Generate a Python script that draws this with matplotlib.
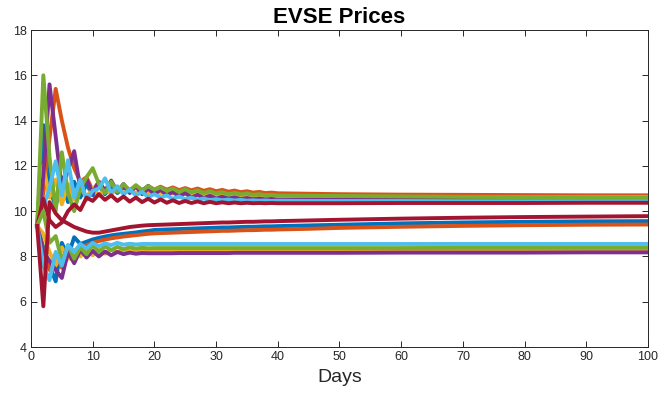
import matplotlib
matplotlib.use('Agg')
import matplotlib.pyplot as plt

# days sampled: every day up to 40, then sparser (curves are flat there)
days = list(range(1, 41)) + [45, 50, 60, 70, 80, 90, 100]

# MATLAB default colour order
colors = ['#0072BD', '#D95319', '#EDB120', '#7E2F8E', '#77AC30', '#4DBEEE', '#A2142F']

# high group (converge near 10.4 - 10.7)
blue_hi = [9.35, 13.8, 11.0, 10.2, 11.5, 10.4, 11.3, 10.6, 11.2, 10.7,
           11.15, 10.75, 11.1, 10.8, 11.05, 10.85, 11.1, 10.88, 11.12, 10.9,
           11.05, 10.88, 11.0, 10.85, 10.95, 10.82, 10.9, 10.78, 10.85, 10.75,
           10.8, 10.72, 10.76, 10.7, 10.72, 10.67, 10.69, 10.65, 10.66, 10.63,
           10.61, 10.6, 10.58, 10.57, 10.56, 10.55, 10.55]
orange_hi = [9.35, 10.8, 13.2, 15.4, 14.0, 12.8, 11.9, 11.3, 11.5, 10.9,
             11.3, 10.85, 11.2, 10.9, 11.15, 10.92, 11.12, 10.93, 11.1, 10.95,
             11.08, 10.95, 11.05, 10.93, 11.02, 10.92, 11.0, 10.9, 10.97, 10.88,
             10.94, 10.86, 10.91, 10.84, 10.88, 10.82, 10.85, 10.8, 10.82, 10.79,
             10.77, 10.75, 10.73, 10.72, 10.71, 10.7, 10.7]
yellow_hi = [9.35, 12.0, 10.6, 11.4, 10.3, 11.2, 10.5, 11.1, 10.6, 11.05,
             10.7, 11.0, 10.75, 11.0, 10.8, 10.95, 10.8, 10.92, 10.8, 10.9,
             10.8, 10.88, 10.78, 10.85, 10.76, 10.82, 10.74, 10.79, 10.72, 10.76,
             10.71, 10.74, 10.69, 10.72, 10.68, 10.7, 10.67, 10.68, 10.66, 10.67,
             10.65, 10.64, 10.63, 10.63, 10.62, 10.62, 10.62]
purple_hi = [9.35, 11.5, 15.6, 13.3, 11.0, 11.8, 12.65, 11.0, 11.4, 10.8,
             11.3, 10.9, 11.35, 10.85, 11.2, 10.8, 11.1, 10.75, 11.0, 10.75,
             10.95, 10.7, 10.85, 10.65, 10.8, 10.6, 10.72, 10.58, 10.68, 10.56,
             10.64, 10.55, 10.61, 10.53, 10.58, 10.52, 10.56, 10.51, 10.54, 10.5,
             10.51, 10.5, 10.5, 10.5, 10.5, 10.5, 10.5]
green_hi = [9.35, 16.0, 12.4, 10.0, 12.6, 10.8, 10.0, 11.0, 11.5, 11.9,
            11.2, 10.8, 11.3, 10.85, 11.2, 10.9, 11.15, 10.92, 11.1, 10.95,
            11.05, 10.9, 11.0, 10.85, 10.97, 10.83, 10.92, 10.8, 10.88, 10.78,
            10.84, 10.75, 10.8, 10.74, 10.78, 10.72, 10.75, 10.7, 10.72, 10.69,
            10.68, 10.67, 10.65, 10.63, 10.62, 10.61, 10.6]
ltblue_hi = [9.35, 10.2, 11.0, 12.2, 10.7, 12.25, 10.6, 11.4, 10.5, 10.9,
             11.0, 11.45, 10.8, 11.1, 10.75, 10.95, 10.7, 10.85, 10.62, 10.75,
             10.6, 10.7, 10.55, 10.65, 10.53, 10.6, 10.5, 10.56, 10.48, 10.53,
             10.48, 10.51, 10.47, 10.5, 10.46, 10.48, 10.46, 10.47, 10.45, 10.46,
             10.45, 10.45, 10.45, 10.44, 10.44, 10.44, 10.44]
red_hi = [9.35, 10.55, 9.6, 9.3, 9.5, 10.0, 10.3, 10.05, 10.6, 10.45,
          10.75, 10.5, 10.7, 10.45, 10.65, 10.42, 10.6, 10.4, 10.55, 10.38,
          10.52, 10.37, 10.48, 10.36, 10.45, 10.36, 10.43, 10.35, 10.41, 10.35,
          10.39, 10.35, 10.38, 10.35, 10.37, 10.35, 10.36, 10.35, 10.36, 10.35,
          10.35, 10.35, 10.36, 10.36, 10.36, 10.37, 10.37]

# middle group (slow rise towards 9.4 - 9.8)
blue_mid = [9.35, 8.4, 7.6, 6.9, 8.6, 8.0, 8.85, 8.55, 8.65, 8.75,
            8.82, 8.88, 8.93, 8.97, 9.0, 9.03, 9.06, 9.1, 9.13, 9.17,
            9.18, 9.19, 9.2, 9.21, 9.22, 9.23, 9.24, 9.25, 9.26, 9.27,
            9.28, 9.28, 9.29, 9.3, 9.31, 9.31, 9.32, 9.33, 9.33, 9.34,
            9.37, 9.4, 9.46, 9.5, 9.53, 9.55, 9.56]
orange_mid = [9.35, 8.3, 7.4, 8.1, 7.5, 8.0, 7.8, 8.3, 8.5, 8.6,
              8.68, 8.74, 8.8, 8.84, 8.88, 8.91, 8.94, 8.97, 9.0, 9.02,
              9.03, 9.04, 9.05, 9.06, 9.07, 9.08, 9.09, 9.1, 9.11, 9.12,
              9.13, 9.13, 9.14, 9.15, 9.16, 9.16, 9.17, 9.18, 9.18, 9.19,
              9.22, 9.26, 9.31, 9.35, 9.38, 9.4, 9.41]
red_mid = [9.35, 5.8, 10.4, 9.9, 9.6, 9.45, 9.3, 9.2, 9.1, 9.05,
           9.05, 9.1, 9.15, 9.2, 9.25, 9.3, 9.33, 9.36, 9.38, 9.39,
           9.4, 9.41, 9.42, 9.43, 9.44, 9.45, 9.46, 9.47, 9.48, 9.49,
           9.5, 9.5, 9.51, 9.52, 9.53, 9.53, 9.54, 9.55, 9.55, 9.56,
           9.59, 9.62, 9.67, 9.71, 9.74, 9.76, 9.78]

# low group (settle near 8.2 - 8.55)
yellow_lo = [9.35, 9.0, 8.2, 7.6, 8.4, 7.9, 8.3, 8.0, 8.35, 8.05,
             8.3, 8.12, 8.3, 8.18, 8.3, 8.22, 8.29, 8.25, 8.28, 8.27,
             8.28, 8.28, 8.28, 8.28, 8.28, 8.28, 8.28, 8.28, 8.28, 8.28,
             8.28, 8.28, 8.28, 8.29, 8.29, 8.29, 8.29, 8.29, 8.29, 8.29,
             8.29, 8.29, 8.3, 8.3, 8.3, 8.3, 8.3]
purple_lo = [9.35, 8.2, 7.8, 7.4, 7.05, 8.2, 7.7, 8.3, 7.95, 8.25,
             8.0, 8.22, 8.05, 8.2, 8.1, 8.17, 8.12, 8.15, 8.14, 8.14,
             8.14, 8.14, 8.14, 8.15, 8.15, 8.15, 8.15, 8.15, 8.15, 8.15,
             8.15, 8.15, 8.16, 8.16, 8.16, 8.16, 8.16, 8.16, 8.16, 8.16,
             8.16, 8.16, 8.17, 8.17, 8.17, 8.18, 8.18]
green_lo = [9.35, 10.0, 8.6, 8.9, 7.8, 8.5, 7.9, 8.4, 8.1, 8.5,
            8.2, 8.45, 8.28, 8.42, 8.32, 8.4, 8.35, 8.38, 8.36, 8.37,
            8.37, 8.37, 8.37, 8.37, 8.37, 8.37, 8.37, 8.37, 8.37, 8.37,
            8.37, 8.37, 8.37, 8.37, 8.37, 8.37, 8.37, 8.37, 8.37, 8.37,
            8.37, 8.37, 8.37, 8.38, 8.38, 8.38, 8.38]
ltblue_lo = [9.35, 7.6, 6.95, 8.2, 7.6, 8.5, 8.2, 8.55, 8.35, 8.6,
             8.45, 8.58, 8.5, 8.6, 8.52, 8.56, 8.53, 8.55, 8.55, 8.55,
             8.55, 8.55, 8.55, 8.55, 8.55, 8.55, 8.55, 8.55, 8.55, 8.55,
             8.55, 8.55, 8.55, 8.55, 8.55, 8.55, 8.55, 8.55, 8.55, 8.55,
             8.55, 8.55, 8.55, 8.55, 8.55, 8.55, 8.55]

series = [blue_hi, orange_hi, yellow_hi, purple_hi, green_hi, ltblue_hi, red_hi,
          blue_mid, orange_mid, yellow_lo, purple_lo, green_lo, ltblue_lo, red_mid]

plt.rcParams['font.family'] = ['Liberation Sans', 'DejaVu Sans']

fig = plt.figure(figsize=(6.68, 3.96), dpi=100)
ax = fig.add_axes([0.0464, 0.1237, 0.9236, 0.8005])

for i, s in enumerate(series):
    ax.plot(days, s, color=colors[i % 7], lw=2.8, solid_joinstyle='round')

ax.set_xlim(0, 100)
ax.set_ylim(4, 18)
ax.set_xticks(range(0, 101, 10))
ax.set_yticks(range(4, 19, 2))
ax.tick_params(direction='in', top=True, right=True, length=4, width=0.7,
               labelsize=9, colors='#262626', pad=3)
for sp in ax.spines.values():
    sp.set_color('#262626')
    sp.set_linewidth(0.7)

ax.set_title('EVSE Prices', fontsize=16, fontweight='bold', color='black', pad=5)
ax.set_xlabel('Days', fontsize=14, color='#262626', labelpad=4)

fig.savefig('out.png', dpi=100)
